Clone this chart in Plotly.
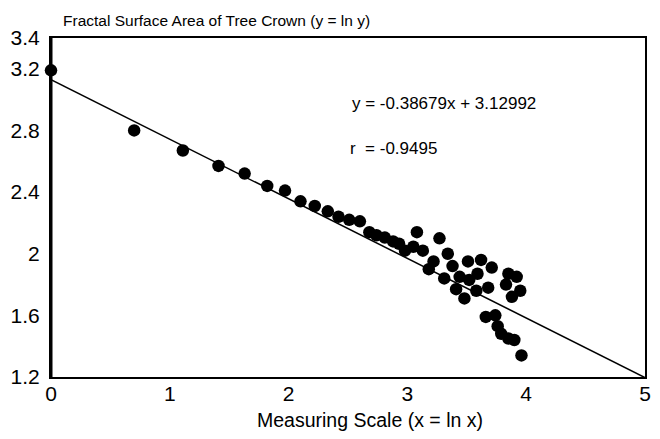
import plotly.graph_objects as go

# Data
x_vals = [0.00, 0.70, 1.11, 1.41, 1.63, 1.82, 1.97, 2.10, 2.22, 2.33, 2.42, 2.51,
          2.60, 2.68, 2.74, 2.81, 2.88, 2.93, 2.98, 3.05, 3.08, 3.13, 3.18, 3.22,
          3.27, 3.31, 3.34, 3.38, 3.41, 3.44, 3.48, 3.51, 3.52, 3.58, 3.59, 3.62,
          3.66, 3.68, 3.71, 3.74, 3.76, 3.79, 3.83, 3.85, 3.85, 3.88, 3.90, 3.92,
          3.95, 3.96]
y_vals = [3.19, 2.80, 2.67, 2.57, 2.52, 2.44, 2.41, 2.34, 2.31, 2.275, 2.24, 2.22,
          2.21, 2.14, 2.12, 2.105, 2.08, 2.065, 2.02, 2.045, 2.14, 2.02, 1.90, 1.95,
          2.10, 1.84, 2.00, 1.92, 1.77, 1.85, 1.71, 1.95, 1.83, 1.76, 1.87, 1.96,
          1.59, 1.78, 1.91, 1.60, 1.53, 1.48, 1.80, 1.87, 1.45, 1.72, 1.44, 1.85,
          1.76, 1.34]

slope = -0.38679
intercept = 3.12992
r_value = -0.9495
line_x = [0, 5]
line_y = [slope * v + intercept for v in line_x]

y_ticks = [1.2, 1.6, 2.0, 2.4, 2.8, 3.2, 3.4]
y_tick_text = ["1.2", "1.6", "2", "2.4", "2.8", "3.2", "3.4"]
x_ticks = [0, 1, 2, 3, 4, 5]

font_family = "Liberation Sans, Arial, sans-serif"

fig = go.Figure()
fig.add_trace(go.Scatter(x=line_x, y=line_y, mode="lines",
                         line=dict(color="black", width=1.5),
                         hoverinfo="skip", showlegend=False, cliponaxis=False))
fig.add_trace(go.Scatter(x=x_vals, y=y_vals, mode="markers",
                         marker=dict(color="black", size=12.5, line=dict(width=0)),
                         showlegend=False, cliponaxis=False))

fig.update_layout(
    width=660, height=439,
    margin=dict(l=51, r=15, t=38, b=62, autoexpand=False),
    paper_bgcolor="white", plot_bgcolor="white",
    font=dict(family=font_family, color="black"),
    xaxis=dict(range=[0, 5], tickvals=x_ticks, showgrid=False, zeroline=False,
               showline=True, linecolor="black", linewidth=2, mirror=True,
               ticks="", tickfont=dict(size=21), automargin=False,
               ticklabelstandoff=-3),
    yaxis=dict(range=[1.2, 3.4], tickvals=y_ticks, ticktext=y_tick_text,
               showgrid=False, zeroline=False, automargin=False,
               showline=True, linecolor="black", linewidth=2, mirror=True,
               ticks="", tickfont=dict(size=21), ticklabelstandoff=5),
    annotations=[
        dict(text="Fractal Surface Area of Tree Crown (y = ln y)",
             xref="paper", yref="paper", x=0.0, y=1.0, xanchor="left",
             yanchor="bottom", xshift=10, yshift=7, showarrow=False,
             font=dict(size=15.5)),
        dict(text="Measuring Scale (x = ln x)",
             xref="paper", yref="paper", x=0.537, y=0.0, xanchor="center",
             yanchor="middle", yshift=-43, showarrow=False,
             font=dict(size=19.5)),
        dict(text=f"y = {slope}x + {intercept}", xref="x", yref="y",
             x=2.515, y=2.973, xanchor="left", yanchor="middle",
             showarrow=False, font=dict(size=17)),
        dict(text=f"r  = {r_value}", xref="x", yref="y",
             x=2.50, y=2.684, xanchor="left", yanchor="middle",
             showarrow=False, font=dict(size=17)),
    ],
)
fig.add_shape(type="line", xref="paper", yref="paper", x0=0, x1=0, y0=0, y1=1,
              line=dict(color="black", width=3))

fig.write_html(
    "out.html",
    config={"displayModeBar": False},
    post_script="document.body.style.margin='0';document.body.style.overflow='hidden';",
)
